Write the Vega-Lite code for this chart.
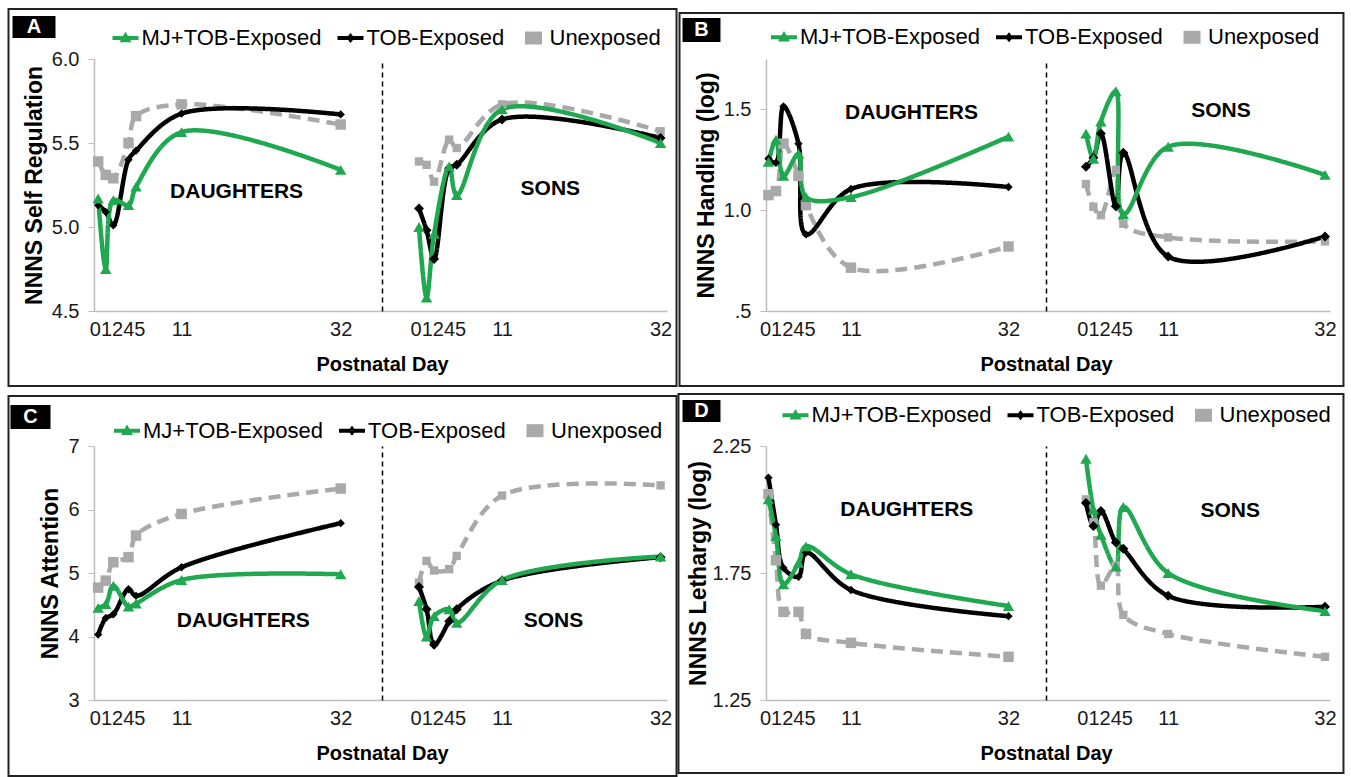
{
"$schema": "https://vega.github.io/schema/vega-lite/v6.json",
"padding": {"left": 7, "top": 7, "right": 5, "bottom": 0},
"autosize": {"type": "pad"},
"background": "white",
"config": {"view": {"stroke": null}, "font": "Liberation Sans", "axis": {"grid": false}},
"datasets": {
"A": [
{"sex":"DAUGHTERS","series":"Unexposed","day":0,"value":5.39},{"sex":"DAUGHTERS","series":"Unexposed","day":1,"value":5.31},{"sex":"DAUGHTERS","series":"Unexposed","day":2,"value":5.29},{"sex":"DAUGHTERS","series":"Unexposed","day":4,"value":5.50},{"sex":"DAUGHTERS","series":"Unexposed","day":5,"value":5.66},{"sex":"DAUGHTERS","series":"Unexposed","day":11,"value":5.73},{"sex":"DAUGHTERS","series":"Unexposed","day":32,"value":5.61},
{"sex":"DAUGHTERS","series":"TOB-Exposed","day":0,"value":5.13},{"sex":"DAUGHTERS","series":"TOB-Exposed","day":1,"value":5.09},{"sex":"DAUGHTERS","series":"TOB-Exposed","day":2,"value":5.01},{"sex":"DAUGHTERS","series":"TOB-Exposed","day":4,"value":5.40},{"sex":"DAUGHTERS","series":"TOB-Exposed","day":5,"value":5.455},{"sex":"DAUGHTERS","series":"TOB-Exposed","day":11,"value":5.675},{"sex":"DAUGHTERS","series":"TOB-Exposed","day":32,"value":5.67},
{"sex":"DAUGHTERS","series":"MJ+TOB-Exposed","day":0,"value":5.17},{"sex":"DAUGHTERS","series":"MJ+TOB-Exposed","day":1,"value":4.75},{"sex":"DAUGHTERS","series":"MJ+TOB-Exposed","day":2,"value":5.16},{"sex":"DAUGHTERS","series":"MJ+TOB-Exposed","day":4,"value":5.13},{"sex":"DAUGHTERS","series":"MJ+TOB-Exposed","day":5,"value":5.24},{"sex":"DAUGHTERS","series":"MJ+TOB-Exposed","day":11,"value":5.565},{"sex":"DAUGHTERS","series":"MJ+TOB-Exposed","day":32,"value":5.34},
{"sex":"SONS","series":"Unexposed","day":0,"value":5.39},{"sex":"SONS","series":"Unexposed","day":1,"value":5.37},{"sex":"SONS","series":"Unexposed","day":2,"value":5.27},{"sex":"SONS","series":"Unexposed","day":4,"value":5.52},{"sex":"SONS","series":"Unexposed","day":5,"value":5.47},{"sex":"SONS","series":"Unexposed","day":11,"value":5.73},{"sex":"SONS","series":"Unexposed","day":32,"value":5.57},
{"sex":"SONS","series":"TOB-Exposed","day":0,"value":5.11},{"sex":"SONS","series":"TOB-Exposed","day":1,"value":4.98},{"sex":"SONS","series":"TOB-Exposed","day":2,"value":4.81},{"sex":"SONS","series":"TOB-Exposed","day":4,"value":5.35},{"sex":"SONS","series":"TOB-Exposed","day":5,"value":5.37},{"sex":"SONS","series":"TOB-Exposed","day":11,"value":5.64},{"sex":"SONS","series":"TOB-Exposed","day":32,"value":5.53},
{"sex":"SONS","series":"MJ+TOB-Exposed","day":0,"value":5.0},{"sex":"SONS","series":"MJ+TOB-Exposed","day":1,"value":4.58},{"sex":"SONS","series":"MJ+TOB-Exposed","day":2,"value":4.96},{"sex":"SONS","series":"MJ+TOB-Exposed","day":4,"value":5.36},{"sex":"SONS","series":"MJ+TOB-Exposed","day":5,"value":5.19},{"sex":"SONS","series":"MJ+TOB-Exposed","day":11,"value":5.70},{"sex":"SONS","series":"MJ+TOB-Exposed","day":32,"value":5.50}
],
"B": [
{"sex":"DAUGHTERS","series":"Unexposed","day":0,"value":1.075},{"sex":"DAUGHTERS","series":"Unexposed","day":1,"value":1.095},{"sex":"DAUGHTERS","series":"Unexposed","day":2,"value":1.33},{"sex":"DAUGHTERS","series":"Unexposed","day":4,"value":1.17},{"sex":"DAUGHTERS","series":"Unexposed","day":5,"value":1.025},{"sex":"DAUGHTERS","series":"Unexposed","day":11,"value":0.715},{"sex":"DAUGHTERS","series":"Unexposed","day":32,"value":0.82},
{"sex":"DAUGHTERS","series":"TOB-Exposed","day":0,"value":1.255},{"sex":"DAUGHTERS","series":"TOB-Exposed","day":1,"value":1.235},{"sex":"DAUGHTERS","series":"TOB-Exposed","day":2,"value":1.515},{"sex":"DAUGHTERS","series":"TOB-Exposed","day":4,"value":1.33},{"sex":"DAUGHTERS","series":"TOB-Exposed","day":5,"value":0.88},{"sex":"DAUGHTERS","series":"TOB-Exposed","day":11,"value":1.105},{"sex":"DAUGHTERS","series":"TOB-Exposed","day":32,"value":1.115},
{"sex":"DAUGHTERS","series":"MJ+TOB-Exposed","day":0,"value":1.24},{"sex":"DAUGHTERS","series":"MJ+TOB-Exposed","day":1,"value":1.35},{"sex":"DAUGHTERS","series":"MJ+TOB-Exposed","day":2,"value":1.17},{"sex":"DAUGHTERS","series":"MJ+TOB-Exposed","day":4,"value":1.28},{"sex":"DAUGHTERS","series":"MJ+TOB-Exposed","day":5,"value":1.065},{"sex":"DAUGHTERS","series":"MJ+TOB-Exposed","day":11,"value":1.065},{"sex":"DAUGHTERS","series":"MJ+TOB-Exposed","day":32,"value":1.365},
{"sex":"SONS","series":"Unexposed","day":0,"value":1.13},{"sex":"SONS","series":"Unexposed","day":1,"value":1.017},{"sex":"SONS","series":"Unexposed","day":2,"value":0.975},{"sex":"SONS","series":"Unexposed","day":4,"value":1.20},{"sex":"SONS","series":"Unexposed","day":5,"value":0.933},{"sex":"SONS","series":"Unexposed","day":11,"value":0.865},{"sex":"SONS","series":"Unexposed","day":32,"value":0.845},
{"sex":"SONS","series":"TOB-Exposed","day":0,"value":1.215},{"sex":"SONS","series":"TOB-Exposed","day":1,"value":1.26},{"sex":"SONS","series":"TOB-Exposed","day":2,"value":1.38},{"sex":"SONS","series":"TOB-Exposed","day":4,"value":1.02},{"sex":"SONS","series":"TOB-Exposed","day":5,"value":1.285},{"sex":"SONS","series":"TOB-Exposed","day":11,"value":0.77},{"sex":"SONS","series":"TOB-Exposed","day":32,"value":0.87},
{"sex":"SONS","series":"MJ+TOB-Exposed","day":0,"value":1.38},{"sex":"SONS","series":"MJ+TOB-Exposed","day":1,"value":1.255},{"sex":"SONS","series":"MJ+TOB-Exposed","day":2,"value":1.44},{"sex":"SONS","series":"MJ+TOB-Exposed","day":4,"value":1.59},{"sex":"SONS","series":"MJ+TOB-Exposed","day":5,"value":0.98},{"sex":"SONS","series":"MJ+TOB-Exposed","day":11,"value":1.315},{"sex":"SONS","series":"MJ+TOB-Exposed","day":32,"value":1.175}
],
"C": [
{"sex":"DAUGHTERS","series":"Unexposed","day":0,"value":4.77},{"sex":"DAUGHTERS","series":"Unexposed","day":1,"value":4.88},{"sex":"DAUGHTERS","series":"Unexposed","day":2,"value":5.17},{"sex":"DAUGHTERS","series":"Unexposed","day":4,"value":5.25},{"sex":"DAUGHTERS","series":"Unexposed","day":5,"value":5.59},{"sex":"DAUGHTERS","series":"Unexposed","day":11,"value":5.93},{"sex":"DAUGHTERS","series":"Unexposed","day":32,"value":6.33},
{"sex":"DAUGHTERS","series":"TOB-Exposed","day":0,"value":4.03},{"sex":"DAUGHTERS","series":"TOB-Exposed","day":1,"value":4.29},{"sex":"DAUGHTERS","series":"TOB-Exposed","day":2,"value":4.35},{"sex":"DAUGHTERS","series":"TOB-Exposed","day":4,"value":4.745},{"sex":"DAUGHTERS","series":"TOB-Exposed","day":5,"value":4.64},{"sex":"DAUGHTERS","series":"TOB-Exposed","day":11,"value":5.09},{"sex":"DAUGHTERS","series":"TOB-Exposed","day":32,"value":5.785},
{"sex":"DAUGHTERS","series":"MJ+TOB-Exposed","day":0,"value":4.45},{"sex":"DAUGHTERS","series":"MJ+TOB-Exposed","day":1,"value":4.51},{"sex":"DAUGHTERS","series":"MJ+TOB-Exposed","day":2,"value":4.80},{"sex":"DAUGHTERS","series":"MJ+TOB-Exposed","day":4,"value":4.47},{"sex":"DAUGHTERS","series":"MJ+TOB-Exposed","day":5,"value":4.52},{"sex":"DAUGHTERS","series":"MJ+TOB-Exposed","day":11,"value":4.89},{"sex":"DAUGHTERS","series":"MJ+TOB-Exposed","day":32,"value":4.98},
{"sex":"SONS","series":"Unexposed","day":0,"value":4.85},{"sex":"SONS","series":"Unexposed","day":1,"value":5.19},{"sex":"SONS","series":"Unexposed","day":2,"value":5.04},{"sex":"SONS","series":"Unexposed","day":4,"value":5.06},{"sex":"SONS","series":"Unexposed","day":5,"value":5.27},{"sex":"SONS","series":"Unexposed","day":11,"value":6.22},{"sex":"SONS","series":"Unexposed","day":32,"value":6.38},
{"sex":"SONS","series":"TOB-Exposed","day":0,"value":4.78},{"sex":"SONS","series":"TOB-Exposed","day":1,"value":4.43},{"sex":"SONS","series":"TOB-Exposed","day":2,"value":3.87},{"sex":"SONS","series":"TOB-Exposed","day":4,"value":4.24},{"sex":"SONS","series":"TOB-Exposed","day":5,"value":4.43},{"sex":"SONS","series":"TOB-Exposed","day":11,"value":4.88},{"sex":"SONS","series":"TOB-Exposed","day":32,"value":5.25},
{"sex":"SONS","series":"MJ+TOB-Exposed","day":0,"value":4.56},{"sex":"SONS","series":"MJ+TOB-Exposed","day":1,"value":4.0},{"sex":"SONS","series":"MJ+TOB-Exposed","day":2,"value":4.32},{"sex":"SONS","series":"MJ+TOB-Exposed","day":4,"value":4.43},{"sex":"SONS","series":"MJ+TOB-Exposed","day":5,"value":4.215},{"sex":"SONS","series":"MJ+TOB-Exposed","day":11,"value":4.89},{"sex":"SONS","series":"MJ+TOB-Exposed","day":32,"value":5.26}
],
"D": [
{"sex":"DAUGHTERS","series":"Unexposed","day":0,"value":2.06},{"sex":"DAUGHTERS","series":"Unexposed","day":1,"value":1.80},{"sex":"DAUGHTERS","series":"Unexposed","day":2,"value":1.597},{"sex":"DAUGHTERS","series":"Unexposed","day":4,"value":1.597},{"sex":"DAUGHTERS","series":"Unexposed","day":5,"value":1.51},{"sex":"DAUGHTERS","series":"Unexposed","day":11,"value":1.475},{"sex":"DAUGHTERS","series":"Unexposed","day":32,"value":1.42},
{"sex":"DAUGHTERS","series":"TOB-Exposed","day":0,"value":2.125},{"sex":"DAUGHTERS","series":"TOB-Exposed","day":1,"value":1.94},{"sex":"DAUGHTERS","series":"TOB-Exposed","day":2,"value":1.77},{"sex":"DAUGHTERS","series":"TOB-Exposed","day":4,"value":1.735},{"sex":"DAUGHTERS","series":"TOB-Exposed","day":5,"value":1.83},{"sex":"DAUGHTERS","series":"TOB-Exposed","day":11,"value":1.683},{"sex":"DAUGHTERS","series":"TOB-Exposed","day":32,"value":1.58},
{"sex":"DAUGHTERS","series":"MJ+TOB-Exposed","day":0,"value":2.04},{"sex":"DAUGHTERS","series":"MJ+TOB-Exposed","day":1,"value":1.895},{"sex":"DAUGHTERS","series":"MJ+TOB-Exposed","day":2,"value":1.705},{"sex":"DAUGHTERS","series":"MJ+TOB-Exposed","day":4,"value":1.79},{"sex":"DAUGHTERS","series":"MJ+TOB-Exposed","day":5,"value":1.855},{"sex":"DAUGHTERS","series":"MJ+TOB-Exposed","day":11,"value":1.745},{"sex":"DAUGHTERS","series":"MJ+TOB-Exposed","day":32,"value":1.62},
{"sex":"SONS","series":"Unexposed","day":0,"value":2.04},{"sex":"SONS","series":"Unexposed","day":1,"value":1.95},{"sex":"SONS","series":"Unexposed","day":2,"value":1.70},{"sex":"SONS","series":"Unexposed","day":4,"value":1.78},{"sex":"SONS","series":"Unexposed","day":5,"value":1.585},{"sex":"SONS","series":"Unexposed","day":11,"value":1.51},{"sex":"SONS","series":"Unexposed","day":32,"value":1.42},
{"sex":"SONS","series":"TOB-Exposed","day":0,"value":2.026},{"sex":"SONS","series":"TOB-Exposed","day":1,"value":1.935},{"sex":"SONS","series":"TOB-Exposed","day":2,"value":1.994},{"sex":"SONS","series":"TOB-Exposed","day":4,"value":1.87},{"sex":"SONS","series":"TOB-Exposed","day":5,"value":1.845},{"sex":"SONS","series":"TOB-Exposed","day":11,"value":1.66},{"sex":"SONS","series":"TOB-Exposed","day":32,"value":1.617},
{"sex":"SONS","series":"MJ+TOB-Exposed","day":0,"value":2.20},{"sex":"SONS","series":"MJ+TOB-Exposed","day":1,"value":2.00},{"sex":"SONS","series":"MJ+TOB-Exposed","day":2,"value":1.90},{"sex":"SONS","series":"MJ+TOB-Exposed","day":4,"value":1.775},{"sex":"SONS","series":"MJ+TOB-Exposed","day":5,"value":2.01},{"sex":"SONS","series":"MJ+TOB-Exposed","day":11,"value":1.75},{"sex":"SONS","series":"MJ+TOB-Exposed","day":32,"value":1.60}
]
},
"columns": 5,
"spacing": {"row": 135, "column": 0},
"bounds": "flush",
"resolve": {"scale": {"x": "independent", "y": "independent", "color": "independent", "shape": "independent", "size": "independent", "strokeDash": "independent"}, "legend": {"color": "independent"}},
"concat": [
  {"width": 288, "height": 252, "data": {"name": "A"}, "layer": [
   {"transform": [{"filter": "datum.sex === 'DAUGHTERS'"}], "mark": {"type": "line", "interpolate": "catmull-rom", "strokeWidth": 4.5},
    "encoding": {
     "x": {"field": "day", "type": "quantitative", "scale": {"domain": [-0.55, 37.45], "nice": false, "zero": false},
      "axis": {"values": [2.5,11,32], "labelExpr": "datum.value == 2.5 ? '01245' : datum.label", "labelFontSize": 20, "labelColor": "#1a1a1a", "labelFlush": false, "labelOverlap": false, "labelPadding": 8, "ticks": false, "domainColor": "#bdbdbd", "domainWidth": 1.5, "title": "Postnatal Day", "titleFontSize": 20, "titleFontWeight": "bold", "titleColor": "#000", "titleX": 288, "titleY": 53, "titleAlign": "center", "titleBaseline": "middle"}},
     "y": {"field": "value", "type": "quantitative", "scale": {"domain": [4.5, 6.0], "nice": false, "zero": false},
      "axis": {"values": [4.5,5,5.5,6], "format": ".1f", "labelFontSize": 20, "labelColor": "#1a1a1a", "labelPadding": 9, "tickSize": 6, "tickColor": "#bdbdbd", "domainColor": "#bdbdbd", "domainWidth": 1.5, "title": "NNNS Self Regulation", "titleFontSize": 23, "titleFontWeight": "bold", "titleColor": "#000", "titlePadding": 5}},
     "color": {"field": "series", "type": "nominal", "scale": {"domain": ["MJ+TOB-Exposed","TOB-Exposed","Unexposed"], "range": ["#1fa84f","#000000","#a9a9a9"]}},
     "strokeDash": {"field": "series", "type": "nominal", "scale": {"domain": ["MJ+TOB-Exposed","TOB-Exposed","Unexposed"], "range": [[1,0],[1,0],[12,7]]}, "legend": null}}},
   {"transform": [{"filter": "datum.sex === 'DAUGHTERS' && datum.series === 'Unexposed'"}], "mark": {"type": "point", "shape": "square", "size": 110, "filled": true, "opacity": 1, "color": "#a9a9a9"}, "encoding": {"x": {"field": "day", "type": "quantitative"}, "y": {"field": "value", "type": "quantitative"}}},
   {"transform": [{"filter": "datum.sex === 'DAUGHTERS' && datum.series === 'TOB-Exposed'"}], "mark": {"type": "point", "shape": "diamond", "size": 70, "filled": true, "opacity": 1, "color": "#000000"}, "encoding": {"x": {"field": "day", "type": "quantitative"}, "y": {"field": "value", "type": "quantitative"}}},
   {"transform": [{"filter": "datum.sex === 'DAUGHTERS' && datum.series === 'MJ+TOB-Exposed'"}], "mark": {"type": "point", "shape": "triangle-up", "size": 130, "filled": true, "opacity": 1, "color": "#1fa84f"}, "encoding": {"x": {"field": "day", "type": "quantitative"}, "y": {"field": "value", "type": "quantitative"}}},
   {"transform": [{"filter": "datum.sex === 'DAUGHTERS'"}], "mark": {"type": "point", "filled": true, "opacity": 0},
    "encoding": {
     "x": {"field": "day", "type": "quantitative"}, "y": {"field": "value", "type": "quantitative"},
     "color": {"field": "series", "type": "nominal", "legend": {"orient": "none", "legendX": 18.5, "legendY": -32, "direction": "horizontal", "columns": 3, "title": null, "labelFontSize": 22, "labelColor": "#000", "labelLimit": 400, "symbolSize": 100, "symbolOffset": 2, "labelOffset": 5, "columnPadding": 16, "padding": 0, "symbolOpacity": 1, "symbolStrokeWidth": 0}},
     "shape": {"field": "series", "type": "nominal", "scale": {"domain": ["MJ+TOB-Exposed","TOB-Exposed","Unexposed"], "range": ["M-2.6,-0.4H2.6V0.4H-2.6Z M0,-1.25L1.2,0.85H-1.2Z","M-2.6,-0.4H2.6V0.4H-2.6Z M0,-1L0.8,0L0,1L-0.8,0Z","M-1.7,-1.3H1.7V1.3H-1.7Z"]}, "legend": null}}},
   {"data": {"values": [{"label": "DAUGHTERS"}]}, "mark": {"type": "text", "fontSize": 21, "fontWeight": "bold", "color": "#000"}, "encoding": {"text": {"field": "label"}, "x": {"datum": 18.26}, "y": {"datum": 5.207}}},
   {"data": {"values": [{"panel": "A"}]}, "mark": {"type": "rect", "fillOpacity": 0, "stroke": "#222", "strokeWidth": 2}, "encoding": {"x": {"datum": -11.83}, "x2": {"datum": 76.31}, "y": {"datum": 6.298}, "y2": {"datum": 4.054}}},
   {"data": {"values": [{"panel": "A"}]}, "mark": {"type": "rect", "color": "#000"}, "encoding": {"x": {"datum": -11.30}, "x2": {"datum": -5.63}, "y": {"datum": 6.256}, "y2": {"datum": 6.125}}},
   {"data": {"values": [{"panel": "A"}]}, "mark": {"type": "text", "color": "#fff", "fontSize": 20, "fontWeight": "bold"}, "encoding": {"text": {"field": "panel"}, "x": {"datum": -8.47}, "y": {"datum": 6.19}}}
  ]},
  {"width": 285, "height": 252, "data": {"name": "A"}, "layer": [
   {"transform": [{"filter": "datum.sex === 'SONS'"}], "mark": {"type": "line", "interpolate": "catmull-rom", "strokeWidth": 4.5},
    "encoding": {
     "x": {"field": "day", "type": "quantitative", "scale": {"domain": [-4.9, 32.85], "nice": false, "zero": false},
      "axis": {"values": [2.5,11,32], "labelExpr": "datum.value == 2.5 ? '01245' : datum.label", "labelFontSize": 20, "labelColor": "#1a1a1a", "labelFlush": false, "labelOverlap": false, "labelPadding": 8, "ticks": false, "domainColor": "#bdbdbd", "domainWidth": 1.5, "title": null}},
     "y": {"field": "value", "type": "quantitative", "scale": {"domain": [4.5, 6.0], "nice": false, "zero": false},
      "axis": {"domainDash": [5,4], "domainColor": "#000", "domainWidth": 1.5, "labels": false, "ticks": false, "title": null}},
     "color": {"field": "series", "type": "nominal", "scale": {"domain": ["MJ+TOB-Exposed","TOB-Exposed","Unexposed"], "range": ["#1fa84f","#000000","#a9a9a9"]}, "legend": null},
     "strokeDash": {"field": "series", "type": "nominal", "scale": {"domain": ["MJ+TOB-Exposed","TOB-Exposed","Unexposed"], "range": [[1,0],[1,0],[12,7]]}, "legend": null}}},
   {"transform": [{"filter": "datum.sex === 'SONS'"}], "mark": {"type": "point", "filled": true, "opacity": 1},
    "encoding": {
     "x": {"field": "day", "type": "quantitative"}, "y": {"field": "value", "type": "quantitative"},
     "color": {"field": "series", "type": "nominal", "legend": null},
     "shape": {"field": "series", "type": "nominal", "scale": {"domain": ["MJ+TOB-Exposed","TOB-Exposed","Unexposed"], "range": ["triangle-up","diamond","square"]}, "legend": null},
     "size": {"field": "series", "type": "nominal", "scale": {"domain": ["MJ+TOB-Exposed","TOB-Exposed","Unexposed"], "range": [130,70,110]}, "legend": null}}},
   {"data": {"values": [{"label": "SONS"}]}, "mark": {"type": "text", "fontSize": 21, "fontWeight": "bold", "color": "#000"}, "encoding": {"text": {"field": "label"}, "x": {"datum": 17.4}, "y": {"datum": 5.226}}}
  ]},
  {"width": 99, "height": 252, "data": {"values": []}, "mark": "point"},
  {"width": 280, "height": 252, "data": {"name": "B"}, "layer": [
   {"transform": [{"filter": "datum.sex === 'DAUGHTERS'"}], "mark": {"type": "line", "interpolate": "catmull-rom", "strokeWidth": 4.5},
    "encoding": {
     "x": {"field": "day", "type": "quantitative", "scale": {"domain": [-0.33, 37.0], "nice": false, "zero": false},
      "axis": {"values": [2.5,11,32], "labelExpr": "datum.value == 2.5 ? '01245' : datum.label", "labelFontSize": 20, "labelColor": "#1a1a1a", "labelFlush": false, "labelOverlap": false, "labelPadding": 8, "ticks": false, "domainColor": "#bdbdbd", "domainWidth": 1.5, "title": "Postnatal Day", "titleFontSize": 20, "titleFontWeight": "bold", "titleColor": "#000", "titleX": 280, "titleY": 53, "titleAlign": "center", "titleBaseline": "middle"}},
     "y": {"field": "value", "type": "quantitative", "scale": {"domain": [0.5, 1.75], "nice": false, "zero": false},
      "axis": {"values": [0.5,1,1.5], "labelExpr": "datum.value == 0.5 ? '.5' : format(datum.value, '.1f')", "labelFontSize": 20, "labelColor": "#1a1a1a", "labelPadding": 9, "tickSize": 6, "tickColor": "#bdbdbd", "domainColor": "#bdbdbd", "domainWidth": 1.5, "title": "NNNS Handling (log)", "titleFontSize": 23, "titleFontWeight": "bold", "titleColor": "#000", "titlePadding": 5}},
     "color": {"field": "series", "type": "nominal", "scale": {"domain": ["MJ+TOB-Exposed","TOB-Exposed","Unexposed"], "range": ["#1fa84f","#000000","#a9a9a9"]}},
     "strokeDash": {"field": "series", "type": "nominal", "scale": {"domain": ["MJ+TOB-Exposed","TOB-Exposed","Unexposed"], "range": [[1,0],[1,0],[12,7]]}, "legend": null}}},
   {"transform": [{"filter": "datum.sex === 'DAUGHTERS' && datum.series === 'Unexposed'"}], "mark": {"type": "point", "shape": "square", "size": 110, "filled": true, "opacity": 1, "color": "#a9a9a9"}, "encoding": {"x": {"field": "day", "type": "quantitative"}, "y": {"field": "value", "type": "quantitative"}}},
   {"transform": [{"filter": "datum.sex === 'DAUGHTERS' && datum.series === 'TOB-Exposed'"}], "mark": {"type": "point", "shape": "diamond", "size": 70, "filled": true, "opacity": 1, "color": "#000000"}, "encoding": {"x": {"field": "day", "type": "quantitative"}, "y": {"field": "value", "type": "quantitative"}}},
   {"transform": [{"filter": "datum.sex === 'DAUGHTERS' && datum.series === 'MJ+TOB-Exposed'"}], "mark": {"type": "point", "shape": "triangle-up", "size": 130, "filled": true, "opacity": 1, "color": "#1fa84f"}, "encoding": {"x": {"field": "day", "type": "quantitative"}, "y": {"field": "value", "type": "quantitative"}}},
   {"transform": [{"filter": "datum.sex === 'DAUGHTERS'"}], "mark": {"type": "point", "filled": true, "opacity": 0},
    "encoding": {
     "x": {"field": "day", "type": "quantitative"}, "y": {"field": "value", "type": "quantitative"},
     "color": {"field": "series", "type": "nominal", "legend": {"orient": "none", "legendX": 5, "legendY": -32.7, "direction": "horizontal", "columns": 3, "title": null, "labelFontSize": 22, "labelColor": "#000", "labelLimit": 400, "symbolSize": 100, "symbolOffset": 2, "labelOffset": 5, "columnPadding": 16, "padding": 0, "symbolOpacity": 1, "symbolStrokeWidth": 0}},
     "shape": {"field": "series", "type": "nominal", "scale": {"domain": ["MJ+TOB-Exposed","TOB-Exposed","Unexposed"], "range": ["M-2.6,-0.4H2.6V0.4H-2.6Z M0,-1.25L1.2,0.85H-1.2Z","M-2.6,-0.4H2.6V0.4H-2.6Z M0,-1L0.8,0L0,1L-0.8,0Z","M-1.7,-1.3H1.7V1.3H-1.7Z"]}, "legend": null}}},
   {"data": {"values": [{"label": "DAUGHTERS"}]}, "mark": {"type": "text", "fontSize": 21, "fontWeight": "bold", "color": "#000"}, "encoding": {"text": {"field": "label"}, "x": {"datum": 19.07}, "y": {"datum": 1.483}}},
   {"data": {"values": [{"panel": "B"}]}, "mark": {"type": "rect", "fillOpacity": 0, "stroke": "#222", "strokeWidth": 2}, "encoding": {"x": {"datum": -11.86}, "x2": {"datum": 76.66}, "y": {"datum": 1.978}, "y2": {"datum": 0.128}}},
   {"data": {"values": [{"panel": "B"}]}, "mark": {"type": "rect", "color": "#000"}, "encoding": {"x": {"datum": -11.46}, "x2": {"datum": -6.40}, "y": {"datum": 1.953}, "y2": {"datum": 1.834}}},
   {"data": {"values": [{"panel": "B"}]}, "mark": {"type": "text", "color": "#fff", "fontSize": 20, "fontWeight": "bold"}, "encoding": {"text": {"field": "panel"}, "x": {"datum": -8.93}, "y": {"datum": 1.893}}}
  ]},
  {"width": 284, "height": 252, "data": {"name": "B"}, "layer": [
   {"transform": [{"filter": "datum.sex === 'SONS'"}], "mark": {"type": "line", "interpolate": "catmull-rom", "strokeWidth": 4.5},
    "encoding": {
     "x": {"field": "day", "type": "quantitative", "scale": {"domain": [-5.35, 32.67], "nice": false, "zero": false},
      "axis": {"values": [2.5,11,32], "labelExpr": "datum.value == 2.5 ? '01245' : datum.label", "labelFontSize": 20, "labelColor": "#1a1a1a", "labelFlush": false, "labelOverlap": false, "labelPadding": 8, "ticks": false, "domainColor": "#bdbdbd", "domainWidth": 1.5, "title": null}},
     "y": {"field": "value", "type": "quantitative", "scale": {"domain": [0.5, 1.75], "nice": false, "zero": false},
      "axis": {"domainDash": [5,4], "domainColor": "#000", "domainWidth": 1.5, "labels": false, "ticks": false, "title": null}},
     "color": {"field": "series", "type": "nominal", "scale": {"domain": ["MJ+TOB-Exposed","TOB-Exposed","Unexposed"], "range": ["#1fa84f","#000000","#a9a9a9"]}, "legend": null},
     "strokeDash": {"field": "series", "type": "nominal", "scale": {"domain": ["MJ+TOB-Exposed","TOB-Exposed","Unexposed"], "range": [[1,0],[1,0],[12,7]]}, "legend": null}}},
   {"transform": [{"filter": "datum.sex === 'SONS'"}], "mark": {"type": "point", "filled": true, "opacity": 1},
    "encoding": {
     "x": {"field": "day", "type": "quantitative"}, "y": {"field": "value", "type": "quantitative"},
     "color": {"field": "series", "type": "nominal", "legend": null},
     "shape": {"field": "series", "type": "nominal", "scale": {"domain": ["MJ+TOB-Exposed","TOB-Exposed","Unexposed"], "range": ["triangle-up","diamond","square"]}, "legend": null},
     "size": {"field": "series", "type": "nominal", "scale": {"domain": ["MJ+TOB-Exposed","TOB-Exposed","Unexposed"], "range": [130,70,110]}, "legend": null}}},
   {"data": {"values": [{"label": "SONS"}]}, "mark": {"type": "text", "fontSize": 21, "fontWeight": "bold", "color": "#000"}, "encoding": {"text": {"field": "label"}, "x": {"datum": 18.07}, "y": {"datum": 1.492}}}
  ]},
  {"width": 288, "height": 254, "data": {"name": "C"}, "layer": [
   {"transform": [{"filter": "datum.sex === 'DAUGHTERS'"}], "mark": {"type": "line", "interpolate": "catmull-rom", "strokeWidth": 4.5},
    "encoding": {
     "x": {"field": "day", "type": "quantitative", "scale": {"domain": [-0.55, 37.45], "nice": false, "zero": false},
      "axis": {"values": [2.5,11,32], "labelExpr": "datum.value == 2.5 ? '01245' : datum.label", "labelFontSize": 20, "labelColor": "#1a1a1a", "labelFlush": false, "labelOverlap": false, "labelPadding": 8, "ticks": false, "domainColor": "#bdbdbd", "domainWidth": 1.5, "title": "Postnatal Day", "titleFontSize": 20, "titleFontWeight": "bold", "titleColor": "#000", "titleX": 288, "titleY": 53, "titleAlign": "center", "titleBaseline": "middle"}},
     "y": {"field": "value", "type": "quantitative", "scale": {"domain": [3, 7], "nice": false, "zero": false},
      "axis": {"values": [3,4,5,6,7], "format": "d", "labelFontSize": 20, "labelColor": "#1a1a1a", "labelPadding": 9, "tickSize": 6, "tickColor": "#bdbdbd", "domainColor": "#bdbdbd", "domainWidth": 1.5, "title": "NNNS Attention", "titleFontSize": 23, "titleFontWeight": "bold", "titleColor": "#000", "titlePadding": 5}},
     "color": {"field": "series", "type": "nominal", "scale": {"domain": ["MJ+TOB-Exposed","TOB-Exposed","Unexposed"], "range": ["#1fa84f","#000000","#a9a9a9"]}},
     "strokeDash": {"field": "series", "type": "nominal", "scale": {"domain": ["MJ+TOB-Exposed","TOB-Exposed","Unexposed"], "range": [[1,0],[1,0],[12,7]]}, "legend": null}}},
   {"transform": [{"filter": "datum.sex === 'DAUGHTERS' && datum.series === 'Unexposed'"}], "mark": {"type": "point", "shape": "square", "size": 110, "filled": true, "opacity": 1, "color": "#a9a9a9"}, "encoding": {"x": {"field": "day", "type": "quantitative"}, "y": {"field": "value", "type": "quantitative"}}},
   {"transform": [{"filter": "datum.sex === 'DAUGHTERS' && datum.series === 'TOB-Exposed'"}], "mark": {"type": "point", "shape": "diamond", "size": 70, "filled": true, "opacity": 1, "color": "#000000"}, "encoding": {"x": {"field": "day", "type": "quantitative"}, "y": {"field": "value", "type": "quantitative"}}},
   {"transform": [{"filter": "datum.sex === 'DAUGHTERS' && datum.series === 'MJ+TOB-Exposed'"}], "mark": {"type": "point", "shape": "triangle-up", "size": 130, "filled": true, "opacity": 1, "color": "#1fa84f"}, "encoding": {"x": {"field": "day", "type": "quantitative"}, "y": {"field": "value", "type": "quantitative"}}},
   {"transform": [{"filter": "datum.sex === 'DAUGHTERS'"}], "mark": {"type": "point", "filled": true, "opacity": 0},
    "encoding": {
     "x": {"field": "day", "type": "quantitative"}, "y": {"field": "value", "type": "quantitative"},
     "color": {"field": "series", "type": "nominal", "legend": {"orient": "none", "legendX": 20, "legendY": -26.3, "direction": "horizontal", "columns": 3, "title": null, "labelFontSize": 22, "labelColor": "#000", "labelLimit": 400, "symbolSize": 100, "symbolOffset": 2, "labelOffset": 5, "columnPadding": 16, "padding": 0, "symbolOpacity": 1, "symbolStrokeWidth": 0}},
     "shape": {"field": "series", "type": "nominal", "scale": {"domain": ["MJ+TOB-Exposed","TOB-Exposed","Unexposed"], "range": ["M-2.6,-0.4H2.6V0.4H-2.6Z M0,-1.25L1.2,0.85H-1.2Z","M-2.6,-0.4H2.6V0.4H-2.6Z M0,-1L0.8,0L0,1L-0.8,0Z","M-1.7,-1.3H1.7V1.3H-1.7Z"]}, "legend": null}}},
   {"data": {"values": [{"label": "DAUGHTERS"}]}, "mark": {"type": "text", "fontSize": 21, "fontWeight": "bold", "color": "#000"}, "encoding": {"text": {"field": "label"}, "x": {"datum": 19.15}, "y": {"datum": 4.243}}},
   {"data": {"values": [{"panel": "C"}]}, "mark": {"type": "rect", "fillOpacity": 0, "stroke": "#222", "strokeWidth": 2}, "encoding": {"x": {"datum": -11.83}, "x2": {"datum": 76.31}, "y": {"datum": 7.787}, "y2": {"datum": 1.803}}},
   {"data": {"values": [{"panel": "C"}]}, "mark": {"type": "rect", "color": "#000"}, "encoding": {"x": {"datum": -11.57}, "x2": {"datum": -6.29}, "y": {"datum": 7.646}, "y2": {"datum": 7.268}}},
   {"data": {"values": [{"panel": "C"}]}, "mark": {"type": "text", "color": "#fff", "fontSize": 20, "fontWeight": "bold"}, "encoding": {"text": {"field": "panel"}, "x": {"datum": -8.93}, "y": {"datum": 7.457}}}
  ]},
  {"width": 285, "height": 254, "data": {"name": "C"}, "layer": [
   {"transform": [{"filter": "datum.sex === 'SONS'"}], "mark": {"type": "line", "interpolate": "catmull-rom", "strokeWidth": 4.5},
    "encoding": {
     "x": {"field": "day", "type": "quantitative", "scale": {"domain": [-4.9, 32.85], "nice": false, "zero": false},
      "axis": {"values": [2.5,11,32], "labelExpr": "datum.value == 2.5 ? '01245' : datum.label", "labelFontSize": 20, "labelColor": "#1a1a1a", "labelFlush": false, "labelOverlap": false, "labelPadding": 8, "ticks": false, "domainColor": "#bdbdbd", "domainWidth": 1.5, "title": null}},
     "y": {"field": "value", "type": "quantitative", "scale": {"domain": [3, 7], "nice": false, "zero": false},
      "axis": {"domainDash": [5,4], "domainColor": "#000", "domainWidth": 1.5, "labels": false, "ticks": false, "title": null}},
     "color": {"field": "series", "type": "nominal", "scale": {"domain": ["MJ+TOB-Exposed","TOB-Exposed","Unexposed"], "range": ["#1fa84f","#000000","#a9a9a9"]}, "legend": null},
     "strokeDash": {"field": "series", "type": "nominal", "scale": {"domain": ["MJ+TOB-Exposed","TOB-Exposed","Unexposed"], "range": [[1,0],[1,0],[12,7]]}, "legend": null}}},
   {"transform": [{"filter": "datum.sex === 'SONS'"}], "mark": {"type": "point", "filled": true, "opacity": 1},
    "encoding": {
     "x": {"field": "day", "type": "quantitative"}, "y": {"field": "value", "type": "quantitative"},
     "color": {"field": "series", "type": "nominal", "legend": null},
     "shape": {"field": "series", "type": "nominal", "scale": {"domain": ["MJ+TOB-Exposed","TOB-Exposed","Unexposed"], "range": ["triangle-up","diamond","square"]}, "legend": null},
     "size": {"field": "series", "type": "nominal", "scale": {"domain": ["MJ+TOB-Exposed","TOB-Exposed","Unexposed"], "range": [130,70,110]}, "legend": null}}},
   {"data": {"values": [{"label": "SONS"}]}, "mark": {"type": "text", "fontSize": 21, "fontWeight": "bold", "color": "#000"}, "encoding": {"text": {"field": "label"}, "x": {"datum": 17.8}, "y": {"datum": 4.243}}}
  ]},
  {"width": 99, "height": 254, "data": {"values": []}, "mark": "point"},
  {"width": 280, "height": 254, "data": {"name": "D"}, "layer": [
   {"transform": [{"filter": "datum.sex === 'DAUGHTERS'"}], "mark": {"type": "line", "interpolate": "catmull-rom", "strokeWidth": 4.5},
    "encoding": {
     "x": {"field": "day", "type": "quantitative", "scale": {"domain": [-0.33, 37.0], "nice": false, "zero": false},
      "axis": {"values": [2.5,11,32], "labelExpr": "datum.value == 2.5 ? '01245' : datum.label", "labelFontSize": 20, "labelColor": "#1a1a1a", "labelFlush": false, "labelOverlap": false, "labelPadding": 8, "ticks": false, "domainColor": "#bdbdbd", "domainWidth": 1.5, "title": "Postnatal Day", "titleFontSize": 20, "titleFontWeight": "bold", "titleColor": "#000", "titleX": 280, "titleY": 53, "titleAlign": "center", "titleBaseline": "middle"}},
     "y": {"field": "value", "type": "quantitative", "scale": {"domain": [1.25, 2.25], "nice": false, "zero": false},
      "axis": {"values": [1.25,1.75,2.25], "format": ".2f", "labelFontSize": 20, "labelColor": "#1a1a1a", "labelPadding": 9, "tickSize": 6, "tickColor": "#bdbdbd", "domainColor": "#bdbdbd", "domainWidth": 1.5, "title": "NNNS Lethargy (log)", "titleFontSize": 23, "titleFontWeight": "bold", "titleColor": "#000", "titlePadding": 2}},
     "color": {"field": "series", "type": "nominal", "scale": {"domain": ["MJ+TOB-Exposed","TOB-Exposed","Unexposed"], "range": ["#1fa84f","#000000","#a9a9a9"]}},
     "strokeDash": {"field": "series", "type": "nominal", "scale": {"domain": ["MJ+TOB-Exposed","TOB-Exposed","Unexposed"], "range": [[1,0],[1,0],[12,7]]}, "legend": null}}},
   {"transform": [{"filter": "datum.sex === 'DAUGHTERS' && datum.series === 'Unexposed'"}], "mark": {"type": "point", "shape": "square", "size": 110, "filled": true, "opacity": 1, "color": "#a9a9a9"}, "encoding": {"x": {"field": "day", "type": "quantitative"}, "y": {"field": "value", "type": "quantitative"}}},
   {"transform": [{"filter": "datum.sex === 'DAUGHTERS' && datum.series === 'TOB-Exposed'"}], "mark": {"type": "point", "shape": "diamond", "size": 70, "filled": true, "opacity": 1, "color": "#000000"}, "encoding": {"x": {"field": "day", "type": "quantitative"}, "y": {"field": "value", "type": "quantitative"}}},
   {"transform": [{"filter": "datum.sex === 'DAUGHTERS' && datum.series === 'MJ+TOB-Exposed'"}], "mark": {"type": "point", "shape": "triangle-up", "size": 130, "filled": true, "opacity": 1, "color": "#1fa84f"}, "encoding": {"x": {"field": "day", "type": "quantitative"}, "y": {"field": "value", "type": "quantitative"}}},
   {"transform": [{"filter": "datum.sex === 'DAUGHTERS'"}], "mark": {"type": "point", "filled": true, "opacity": 0},
    "encoding": {
     "x": {"field": "day", "type": "quantitative"}, "y": {"field": "value", "type": "quantitative"},
     "color": {"field": "series", "type": "nominal", "legend": {"orient": "none", "legendX": 16.5, "legendY": -41.7, "direction": "horizontal", "columns": 3, "title": null, "labelFontSize": 22, "labelColor": "#000", "labelLimit": 400, "symbolSize": 100, "symbolOffset": 2, "labelOffset": 5, "columnPadding": 16, "padding": 0, "symbolOpacity": 1, "symbolStrokeWidth": 0}},
     "shape": {"field": "series", "type": "nominal", "scale": {"domain": ["MJ+TOB-Exposed","TOB-Exposed","Unexposed"], "range": ["M-2.6,-0.4H2.6V0.4H-2.6Z M0,-1.25L1.2,0.85H-1.2Z","M-2.6,-0.4H2.6V0.4H-2.6Z M0,-1L0.8,0L0,1L-0.8,0Z","M-1.7,-1.3H1.7V1.3H-1.7Z"]}, "legend": null}}},
   {"data": {"values": [{"label": "DAUGHTERS"}]}, "mark": {"type": "text", "fontSize": 21, "fontWeight": "bold", "color": "#000"}, "encoding": {"text": {"field": "label"}, "x": {"datum": 18.45}, "y": {"datum": 2.0}}},
   {"data": {"values": [{"panel": "D"}]}, "mark": {"type": "rect", "fillOpacity": 0, "stroke": "#222", "strokeWidth": 2}, "encoding": {"x": {"datum": -12.0}, "x2": {"datum": 76.66}, "y": {"datum": 2.455}, "y2": {"datum": 0.963}}},
   {"data": {"values": [{"panel": "D"}]}, "mark": {"type": "rect", "color": "#000"}, "encoding": {"x": {"datum": -11.46}, "x2": {"datum": -6.40}, "y": {"datum": 2.431}, "y2": {"datum": 2.344}}},
   {"data": {"values": [{"panel": "D"}]}, "mark": {"type": "text", "color": "#fff", "fontSize": 20, "fontWeight": "bold"}, "encoding": {"text": {"field": "panel"}, "x": {"datum": -8.93}, "y": {"datum": 2.388}}}
  ]},
  {"width": 284, "height": 254, "data": {"name": "D"}, "layer": [
   {"transform": [{"filter": "datum.sex === 'SONS'"}], "mark": {"type": "line", "interpolate": "catmull-rom", "strokeWidth": 4.5},
    "encoding": {
     "x": {"field": "day", "type": "quantitative", "scale": {"domain": [-5.35, 32.67], "nice": false, "zero": false},
      "axis": {"values": [2.5,11,32], "labelExpr": "datum.value == 2.5 ? '01245' : datum.label", "labelFontSize": 20, "labelColor": "#1a1a1a", "labelFlush": false, "labelOverlap": false, "labelPadding": 8, "ticks": false, "domainColor": "#bdbdbd", "domainWidth": 1.5, "title": null}},
     "y": {"field": "value", "type": "quantitative", "scale": {"domain": [1.25, 2.25], "nice": false, "zero": false},
      "axis": {"domainDash": [5,4], "domainColor": "#000", "domainWidth": 1.5, "labels": false, "ticks": false, "title": null}},
     "color": {"field": "series", "type": "nominal", "scale": {"domain": ["MJ+TOB-Exposed","TOB-Exposed","Unexposed"], "range": ["#1fa84f","#000000","#a9a9a9"]}, "legend": null},
     "strokeDash": {"field": "series", "type": "nominal", "scale": {"domain": ["MJ+TOB-Exposed","TOB-Exposed","Unexposed"], "range": [[1,0],[1,0],[12,7]]}, "legend": null}}},
   {"transform": [{"filter": "datum.sex === 'SONS'"}], "mark": {"type": "point", "filled": true, "opacity": 1},
    "encoding": {
     "x": {"field": "day", "type": "quantitative"}, "y": {"field": "value", "type": "quantitative"},
     "color": {"field": "series", "type": "nominal", "legend": null},
     "shape": {"field": "series", "type": "nominal", "scale": {"domain": ["MJ+TOB-Exposed","TOB-Exposed","Unexposed"], "range": ["triangle-up","diamond","square"]}, "legend": null},
     "size": {"field": "series", "type": "nominal", "scale": {"domain": ["MJ+TOB-Exposed","TOB-Exposed","Unexposed"], "range": [130,70,110]}, "legend": null}}},
   {"data": {"values": [{"label": "SONS"}]}, "mark": {"type": "text", "fontSize": 21, "fontWeight": "bold", "color": "#000"}, "encoding": {"text": {"field": "label"}, "x": {"datum": 19.3}, "y": {"datum": 1.994}}}
  ]}
]
}
